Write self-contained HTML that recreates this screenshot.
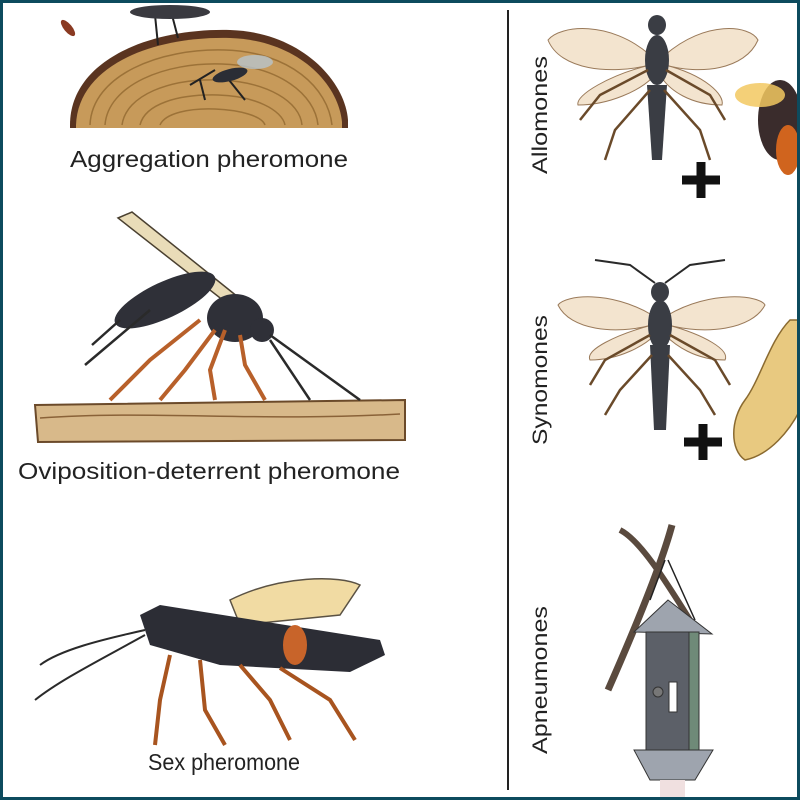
<!DOCTYPE html>
<html><head><meta charset="utf-8"><style>
html,body{margin:0;padding:0;background:#fff}
svg{display:block}
text{font-family:"Liberation Sans",sans-serif;fill:#222}
</style></head><body>
<svg width="800" height="800" viewBox="0 0 800 800" xmlns="http://www.w3.org/2000/svg">
<rect x="0" y="0" width="800" height="800" fill="#fff"/>
<!-- wood slice -->
<path d="M70,125 C70,60 150,28 230,30 C300,32 345,80 348,120 L348,128 L70,128 Z" fill="#5a3420"/>
<path d="M76,125 C78,66 152,36 230,38 C296,40 338,82 342,122 L342,128 L76,128 Z" fill="#c79a5a"/>
<g fill="none" stroke="#9c7238" stroke-width="1.5">
<path d="M90,125 C92,75 160,48 225,50 C290,52 328,88 332,125"/>
<path d="M105,125 C108,85 165,62 222,64 C280,66 315,95 318,125"/>
<path d="M122,125 C126,95 170,78 220,80 C268,82 300,102 302,125"/>
<path d="M140,125 C145,104 178,94 218,95 C255,96 282,110 285,125"/>
<path d="M160,125 C165,113 190,108 215,109 C240,110 262,116 265,125"/>
</g>
<g stroke="#222" stroke-width="2" fill="none">
<line x1="190" y1="85" x2="215" y2="70"/><line x1="200" y1="80" x2="205" y2="100"/><line x1="225" y1="75" x2="245" y2="100"/>
<line x1="155" y1="15" x2="158" y2="45"/><line x1="172" y1="15" x2="178" y2="38"/>
</g>
<ellipse cx="230" cy="75" rx="18" ry="6" fill="#2a2d35" transform="rotate(-15 230 75)"/>
<ellipse cx="255" cy="62" rx="18" ry="7" fill="#b8c4cc" opacity="0.8"/>
<ellipse cx="170" cy="12" rx="40" ry="7" fill="#3a3a40"/>
<ellipse cx="68" cy="28" rx="4" ry="10" fill="#8a3a22" transform="rotate(-40 68 28)"/>
<text x="70" y="167" font-size="23" textLength="278" lengthAdjust="spacingAndGlyphs">Aggregation pheromone</text>

<!-- branch -->
<path d="M35,405 L405,400 L405,440 L38,442 Z" fill="#d8b98a" stroke="#6b4a2a" stroke-width="2"/>
<path d="M40,418 C150,410 260,422 400,414" stroke="#8a6238" fill="none" stroke-width="1.5"/>
<path d="M118,218 L132,212 L248,305 L238,312 Z" fill="#e9dcb8" stroke="#4a4030" stroke-width="1.5"/>
<ellipse cx="165" cy="300" rx="55" ry="18" fill="#2f3038" transform="rotate(-25 165 300)"/>
<ellipse cx="235" cy="318" rx="28" ry="24" fill="#2f3038"/>
<circle cx="262" cy="330" r="12" fill="#2f3038"/>
<g stroke="#2a2a2a" stroke-width="2.5" fill="none">
<line x1="85" y1="365" x2="150" y2="310"/><line x1="120" y1="320" x2="92" y2="345"/>
<line x1="270" y1="335" x2="360" y2="400"/><line x1="270" y1="340" x2="310" y2="400"/>
</g>
<g stroke="#b8602a" stroke-width="4" fill="none">
<path d="M200,320 L150,360 L110,400"/><path d="M215,330 L185,370 L160,400"/>
<path d="M240,335 L245,365 L265,400"/><path d="M225,330 L210,370 L215,400"/>
</g>
<text x="18" y="479" font-size="23" textLength="382" lengthAdjust="spacingAndGlyphs">Oviposition-deterrent pheromone</text>

<!-- sex pheromone wasp -->
<path d="M230,600 C280,575 340,575 360,585 L340,615 L240,625 Z" fill="#f0d89a" stroke="#4a4030" stroke-width="1.5" opacity="0.9"/>
<path d="M140,615 L160,605 L380,640 L385,655 L350,672 L220,665 L150,645 Z" fill="#2c2d35"/>
<ellipse cx="295" cy="645" rx="12" ry="20" fill="#c8642a"/>
<g stroke="#2a2a2a" stroke-width="2" fill="none">
<path d="M145,630 C100,640 60,650 40,665"/><path d="M145,635 C100,660 60,680 35,700"/>
</g>
<g stroke="#a8541f" stroke-width="4" fill="none">
<path d="M170,655 L160,700 L155,745"/><path d="M200,660 L205,710 L225,745"/>
<path d="M240,665 L270,700 L290,740"/><path d="M280,668 L330,700 L355,740"/>
</g>
<text x="148" y="770" font-size="23" textLength="152" lengthAdjust="spacingAndGlyphs">Sex pheromone</text>

<line x1="508" y1="10" x2="508" y2="790" stroke="#222" stroke-width="2"/>

<text transform="translate(547,115) rotate(-90)" font-size="21" text-anchor="middle" textLength="118" lengthAdjust="spacingAndGlyphs">Allomones</text>
<text transform="translate(547,380) rotate(-90)" font-size="21" text-anchor="middle" textLength="130" lengthAdjust="spacingAndGlyphs">Synomones</text>
<text transform="translate(547,680) rotate(-90)" font-size="21" text-anchor="middle" textLength="148" lengthAdjust="spacingAndGlyphs">Apneumones</text>

<g>
<path d="M650,55 C610,20 560,25 548,40 C560,70 610,75 650,65 Z" fill="#f3e4cf" stroke="#9a7a5a"/>
<path d="M665,55 C705,20 750,25 758,40 C745,70 700,75 665,65 Z" fill="#f3e4cf" stroke="#9a7a5a"/>
<path d="M650,65 C610,75 575,95 578,105 C610,105 640,90 652,78 Z" fill="#f3e4cf" stroke="#9a7a5a"/>
<path d="M665,65 C705,75 725,95 722,105 C690,105 670,90 662,78 Z" fill="#f3e4cf" stroke="#9a7a5a"/>
<ellipse cx="657" cy="25" rx="9" ry="10" fill="#3a3d44"/>
<ellipse cx="657" cy="60" rx="12" ry="25" fill="#3a3d44"/>
<path d="M647,85 L667,85 L662,160 L652,160 Z" fill="#3a3d44"/>
<g stroke="#6a4a2a" stroke-width="2.5" fill="none"><path d="M648,70 L600,95 L580,120"/><path d="M666,70 L710,95 L725,120"/><path d="M650,90 L615,130 L605,160"/><path d="M664,90 L700,130 L710,160"/></g>
</g>
<path d="M682,180 h38 M701,162 v36" stroke="#111" stroke-width="9"/>
<ellipse cx="780" cy="120" rx="22" ry="40" fill="#3a2c2c"/>
<ellipse cx="760" cy="95" rx="25" ry="12" fill="#f2c860" opacity="0.85"/>
<ellipse cx="788" cy="150" rx="12" ry="25" fill="#d0641e"/>

<g>
<path d="M652,315 C610,290 565,295 558,305 C570,330 615,335 652,325 Z" fill="#f3e4cf" stroke="#9a7a5a"/>
<path d="M668,315 C710,290 760,295 765,305 C752,330 705,335 668,325 Z" fill="#f3e4cf" stroke="#9a7a5a"/>
<path d="M652,325 C615,335 585,350 590,360 C620,360 645,345 655,335 Z" fill="#f3e4cf" stroke="#9a7a5a"/>
<path d="M668,325 C705,335 730,350 725,360 C695,360 675,345 665,335 Z" fill="#f3e4cf" stroke="#9a7a5a"/>
<ellipse cx="660" cy="292" rx="9" ry="10" fill="#3a3d44"/>
<ellipse cx="660" cy="325" rx="12" ry="25" fill="#3a3d44"/>
<path d="M650,345 L670,345 L666,430 L654,430 Z" fill="#3a3d44"/>
<g stroke="#2a2a2a" stroke-width="2" fill="none"><path d="M655,283 L630,265 L595,260"/><path d="M665,283 L690,265 L725,260"/></g>
<g stroke="#6a4a2a" stroke-width="2.5" fill="none"><path d="M650,335 L605,360 L590,385"/><path d="M670,335 L715,360 L730,385"/><path d="M652,355 L620,390 L605,415"/><path d="M668,355 L700,390 L715,415"/></g>
</g>
<path d="M684,442 h38 M703,424 v36" stroke="#111" stroke-width="9"/>
<path d="M790,320 C770,340 760,380 745,400 C730,420 730,450 745,460 C770,455 790,430 800,410 L800,320 Z" fill="#e8c980" stroke="#8a6a30" stroke-width="1.5"/>

<!-- trap -->
<path d="M672,525 C660,570 630,640 608,690" stroke="#5a4a3e" stroke-width="7" fill="none"/>
<path d="M620,530 C640,540 665,580 690,620" stroke="#5a4a3e" stroke-width="6" fill="none"/>
<path d="M665,560 L650,600 M668,560 L695,620" stroke="#222" stroke-width="1.5" fill="none"/>
<path d="M668,600 L634,632 L712,634 Z" fill="#9ea4ae" stroke="#333"/>
<rect x="646" y="632" width="46" height="128" fill="#5c6068" stroke="#333"/>
<rect x="689" y="632" width="10" height="128" fill="#6f8a78" stroke="#333"/>
<rect x="669" y="682" width="8" height="30" fill="#fff" stroke="#333"/>
<circle cx="658" cy="692" r="5" fill="#777" stroke="#333"/>
<path d="M634,750 L713,750 L695,780 L650,780 Z" fill="#9ea4ae" stroke="#333"/>
<rect x="660" y="780" width="25" height="18" fill="#f0e0e0"/>

<rect x="1.5" y="1.5" width="797" height="797" fill="none" stroke="#0d4b5e" stroke-width="3"/>
</svg>
</body></html>
